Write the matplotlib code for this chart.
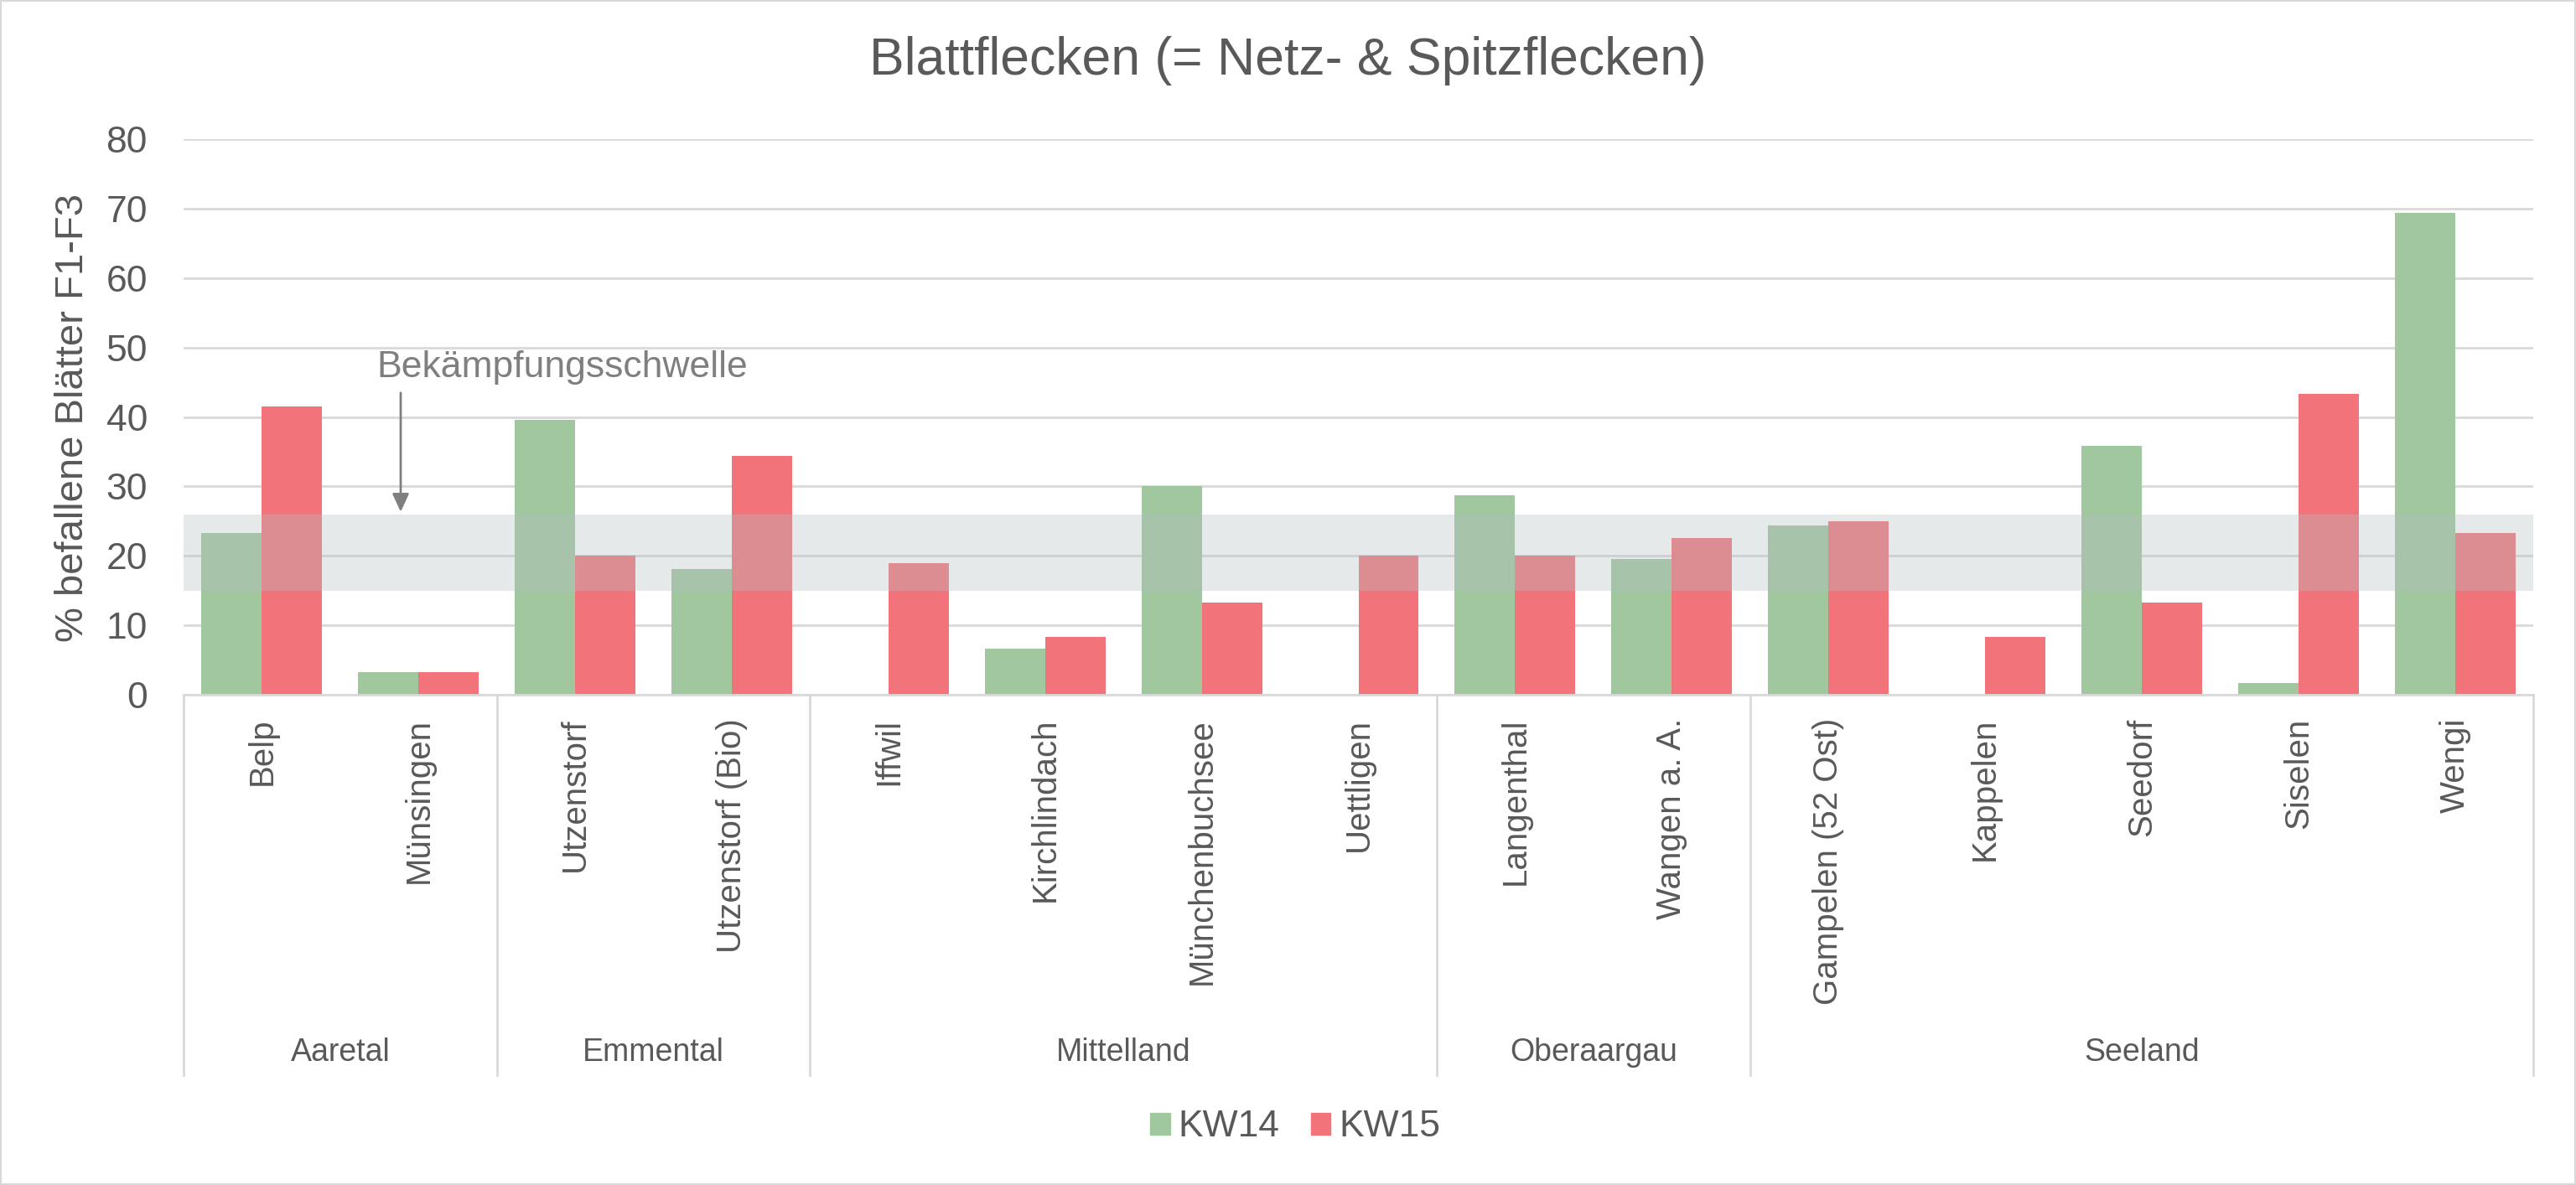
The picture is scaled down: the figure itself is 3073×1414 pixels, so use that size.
import matplotlib
matplotlib.use("Agg")
import matplotlib.pyplot as plt
import matplotlib.patches as mpatches
from matplotlib.transforms import blended_transform_factory

plt.rcParams["font.family"] = ["Liberation Sans", "DejaVu Sans"]

# Daten
standorte = ["Belp", "Münsingen", "Utzenstorf", "Utzenstorf (Bio)", "Iffwil",
             "Kirchlindach", "Münchenbuchsee", "Uettligen", "Langenthal",
             "Wangen a. A.", "Gampelen (52 Ost)", "Kappelen", "Seedorf",
             "Siselen", "Wengi"]
kw14 = [23.3, 3.3, 39.6, 18.1, 0, 6.6, 30.0, 0, 28.7, 19.5, 24.4, 0, 35.8, 1.7, 69.4]
kw15 = [41.5, 3.3, 20.0, 34.4, 19.0, 8.3, 13.3, 20.0, 20.0, 22.6, 25.0, 8.3, 13.3, 43.3, 23.3]
regionen = ["Aaretal", "Emmental", "Mittelland", "Oberaargau", "Seeland"]
regionen_anzahl = [2, 2, 4, 2, 5]
schwelle = (15, 26)

GREEN = "#A1C79F"
RED = "#F2737A"
TEXT = "#595959"
GRID = "#D9D9D9"

W, H = 3073, 1414
fig = plt.figure(figsize=(W / 100, H / 100), dpi=100)
fig.patch.set_facecolor("white")

left, right, top, bottom = 219, 3022, 166, 829
ax = fig.add_axes([left / W, 1 - bottom / H, (right - left) / W, (bottom - top) / H])

x = list(range(len(standorte)))
bw = 0.385
ax.bar([i - bw / 2 for i in x], kw14, width=bw, color=GREEN, label="KW14", zorder=2)
ax.bar([i + bw / 2 for i in x], kw15, width=bw, color=RED, label="KW15", zorder=2)

# Bekämpfungsschwelle (Band)
ax.axhspan(schwelle[0], schwelle[1], color="#B5C0C0", alpha=0.35, lw=0, zorder=3)

ax.set_xlim(-0.5, len(standorte) - 0.5)
ax.set_ylim(0, 80)
ax.set_yticks(range(0, 81, 10))
ax.yaxis.grid(True, color=GRID, lw=2.0, zorder=0)
ax.set_axisbelow(True)
for s in ["top", "right", "left"]:
    ax.spines[s].set_visible(False)
ax.spines["bottom"].set_color(GRID)
ax.spines["bottom"].set_linewidth(2.0)
ax.spines["bottom"].set_zorder(4)

ax.tick_params(axis="y", length=0, pad=31, labelsize=32, labelcolor=TEXT)
ax.set_xticks(x)
ax.set_xticklabels(standorte, rotation=90, va="top", ha="center")
ax.tick_params(axis="x", length=0, pad=20, labelsize=29, labelcolor=TEXT)

# Regionen und Trennlinien
trans = blended_transform_factory(ax.transData, fig.transFigure)
y_low = 1 - 1283 / H
y_ax = 1 - bottom / H
pos = -0.5
ax.plot([pos, pos], [y_ax, y_low], transform=trans, color=GRID, lw=2.0, clip_on=False)
for name, n in zip(regionen, regionen_anzahl):
    ax.text(pos + n / 2, 1 - 1256 / H, name, transform=trans, ha="center", va="center",
            fontsize=27, color=TEXT)
    pos += n
    ax.plot([pos, pos], [y_ax, y_low], transform=trans, color=GRID, lw=2.0, clip_on=False)

# Annotation
ax.annotate("", xy=(0.886, 26), xytext=(0.886, 43.8),
            arrowprops=dict(arrowstyle="-|>,head_length=1.3,head_width=0.6",
                            color="#7F7F7F", lw=2), zorder=5)
ax.text(0.735, 45.7, "Bekämpfungsschwelle", fontsize=32, color="#7F7F7F",
        ha="left", va="baseline", zorder=5)

fig.text(0.5, 1 - 73 / H, "Blattflecken (= Netz- & Spitzflecken)", ha="center",
         va="center", fontsize=45, color=TEXT)
fig.text(87 / W, 1 - 498 / H, "% befallene Blätter F1-F3", rotation=90, ha="center",
         va="center", fontsize=34, color=TEXT)

handles = [mpatches.Patch(color=GREEN, label="KW14"), mpatches.Patch(color=RED, label="KW15")]
fig.legend(handles=handles, loc="center", bbox_to_anchor=(1545 / W, 1 - 1345 / H),
           ncol=2, frameon=False, fontsize=32, handlelength=0.53, handleheight=0.53,
           handletextpad=0.22, columnspacing=0.84, labelcolor=TEXT)

fig.add_artist(mpatches.Rectangle((0, 0), 1, 1, transform=fig.transFigure, fill=False,
                                  edgecolor=GRID, lw=3))

fig.savefig("out.png", dpi=100)
